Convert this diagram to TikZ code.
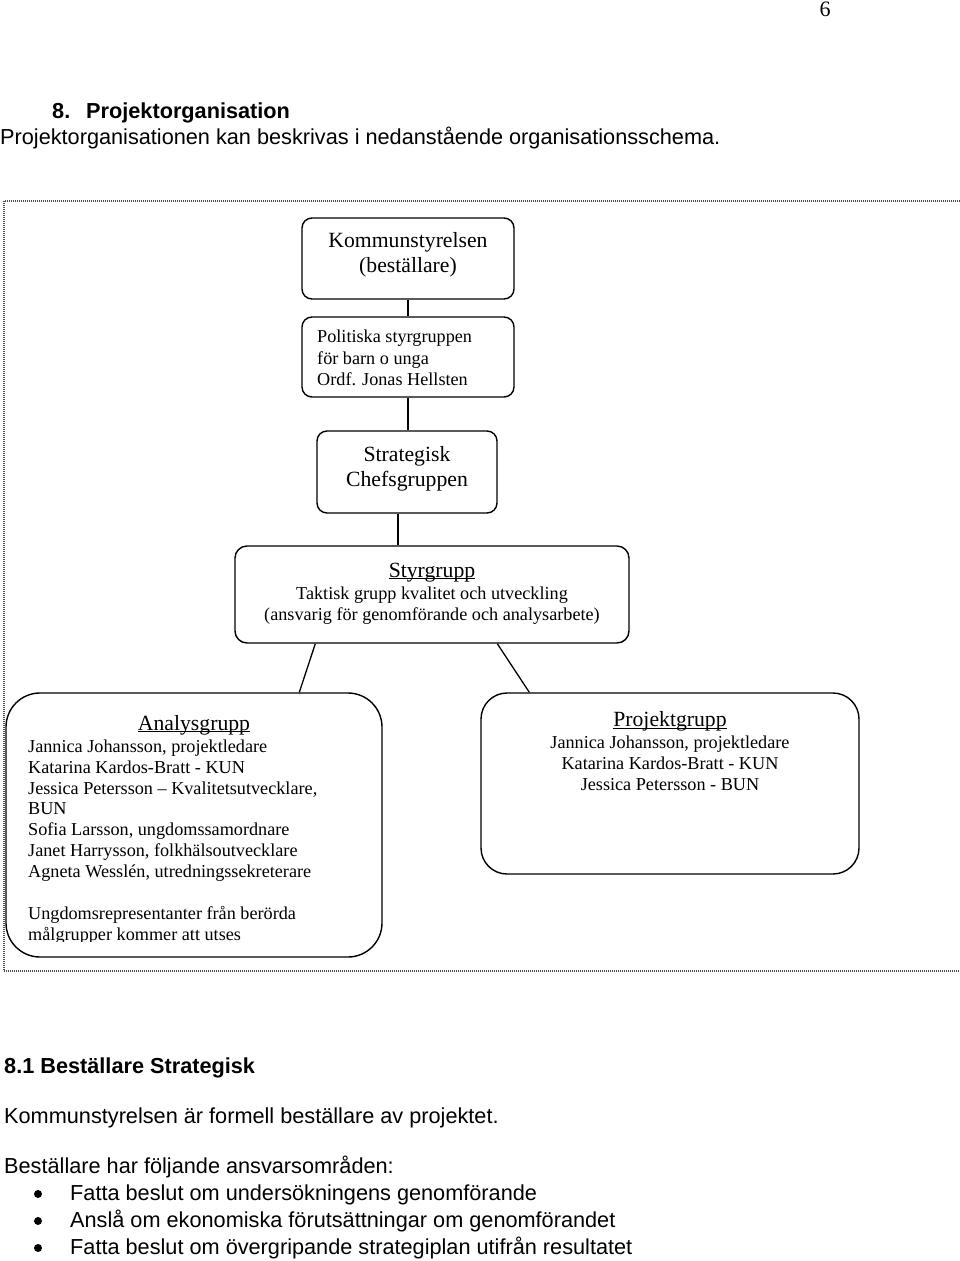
\documentclass[tikz,border=0pt]{standalone}
\usepackage{fontspec}
\setmainfont{Liberation Serif}
\setsansfont{Liberation Sans}
\newcommand\myul[1]{\setbox0\hbox{#1}\rlap{\rule[-1.9pt]{\wd0}{0.9pt}}\box0}
\begin{document}
\begin{tikzpicture}[x=1pt,y=-1pt,
  box/.style={draw, line width=1.4pt, rounded corners=#1, inner sep=0pt},
  conn/.style={line width=1.3pt},
  big/.style={font=\fontsize{21.7}{25}\selectfont, inner sep=0pt},
  small/.style={font=\fontsize{18.2}{21}\selectfont, inner sep=0pt},
  doc/.style={font=\sffamily\fontsize{21.7}{26}\selectfont, anchor=base west, inner sep=0pt},
  docb/.style={font=\sffamily\bfseries\fontsize{21.7}{26}\selectfont, anchor=base west, inner sep=0pt},
  bul/.style={circle, fill=black, inner sep=0pt, minimum size=8pt},
  frame/.style={draw=black!70, line width=1.1pt, dash pattern=on 1pt off 1pt}
]
\useasboundingbox (0,0) rectangle (960,1261);

% page number and header
\node[font=\fontsize{22}{26}\selectfont, anchor=base, inner sep=0pt] (pg) at (825,16) {6};
\node[docb] (h8n) at (52,118.5) {8.};
\node[docb] (h8) at (86,118.5) {Projektorganisation};
\node[doc] (intro) at (0,144.5) {Projektorganisationen kan beskrivas i nedanstående organisationsschema.};

% dotted frame
\coordinate (fa) at (962,201);
\coordinate (fb) at (4,201);
\coordinate (fc) at (4,971);
\coordinate (fd) at (962,971);
\draw[frame] (fa) -- (fb) -- (fc) -- (fd);

% boxes
\node[box=10pt, minimum width=212pt, minimum height=81pt] (ks) at (408,258.5) {};
\node[box=10pt, minimum width=212pt, minimum height=80pt] (pol) at (408,357) {};
\node[box=10pt, minimum width=180pt, minimum height=82pt] (strat) at (407,472) {};
\node[box=12pt, minimum width=394pt, minimum height=97pt] (styr) at (432,594.5) {};
\node[box=34pt, minimum width=376pt, minimum height=264pt] (anal) at (194,825) {};
\node[box=26pt, minimum width=378pt, minimum height=181pt] (proj) at (670,783.5) {};

% connectors
\draw[conn] (ks.south) -- (pol.north);
\draw[conn] (pol.south) -- (pol.south |- strat.north);
\draw[conn] ([xshift=-9pt]strat.south) -- ([xshift=-34pt]styr.north);
\draw[conn] ([xshift=81pt]styr.south west) -- ([xshift=294pt]anal.north west);
\draw[conn] ([xshift=263pt]styr.south west) -- ([xshift=49pt]proj.north west);

% box texts
\node[big, anchor=base] (ks1) at (408,247.5) {Kommunstyrelsen};
\node[big, anchor=base] (ks2) at (408,272) {(beställare)};

\node[small, anchor=base west] (pol1) at (317,342.7) {Politiska styrgruppen};
\node[small, anchor=base west] (pol2) at (317,364) {för barn o unga};
\node[small, anchor=base west] (pol3) at (317,385) {Ordf. Jonas Hellsten};

\node[big, anchor=base] (st1) at (407,461.7) {Strategisk};
\node[big, anchor=base] (st2) at (407,486.7) {Chefsgruppen};

\node[big, anchor=base] (sy1) at (432,577.3) {\myul{Styrgrupp}};
\node[small, anchor=base] (sy2) at (432,599.5) {Taktisk grupp kvalitet och utveckling};
\node[small, anchor=base] (sy3) at (432,620.5) {(ansvarig för genomförande och analysarbete)};

\node[big, anchor=base] (an0) at (194,730) {\myul{Analysgrupp}};
\node[small, anchor=base west] (an1) at (28,752.7) {Jannica Johansson, projektledare};
\node[small, anchor=base west] (an2) at (28,773.3) {Katarina Kardos-Bratt - KUN};
\node[small, anchor=base west] (an3) at (28,794) {Jessica Petersson – Kvalitetsutvecklare,};
\node[small, anchor=base west] (an4) at (28,814.7) {BUN};
\node[small, anchor=base west] (an5) at (28,835.7) {Sofia Larsson, ungdomssamordnare};
\node[small, anchor=base west] (an6) at (28,856.5) {Janet Harrysson, folkhälsoutvecklare};
\node[small, anchor=base west] (an7) at (28,877.2) {Agneta Wesslén, utredningssekreterare};
\node[small, anchor=base west] (an8) at (28,919.5) {Ungdomsrepresentanter från berörda};
\begin{scope}
\clip (0,900) rectangle (400,941);
\node[small, anchor=base west] (an9) at (28,940.5) {målgrupper kommer att utses};
\end{scope}

\node[big, anchor=base] (pr0) at (670,726.7) {\myul{Projektgrupp}};
\node[small, anchor=base] (pr1) at (670,748.3) {Jannica Johansson, projektledare};
\node[small, anchor=base] (pr2) at (670,769.3) {Katarina Kardos-Bratt - KUN};
\node[small, anchor=base] (pr3) at (670,790.5) {Jessica Petersson - BUN};

% lower text
\node[docb] (h81) at (4,1073.5) {8.1 Beställare Strategisk};
\node[doc] (p1) at (4,1123.5) {Kommunstyrelsen är formell beställare av projektet.};
\node[doc] (p2) at (4,1173.5) {Beställare har följande ansvarsområden:};
\node[bul] (b1) at (38,1194) {};
\node[doc] (l1) at (70,1200.5) {Fatta beslut om undersökningens genomförande};
\node[bul] (b2) at (38,1221) {};
\node[doc] (l2) at (70,1227.5) {Anslå om ekonomiska förutsättningar om genomförandet};
\node[bul] (b3) at (38,1248) {};
\node[doc] (l3) at (70,1254.5) {Fatta beslut om övergripande strategiplan utifrån resultatet};
\end{tikzpicture}
\end{document}
